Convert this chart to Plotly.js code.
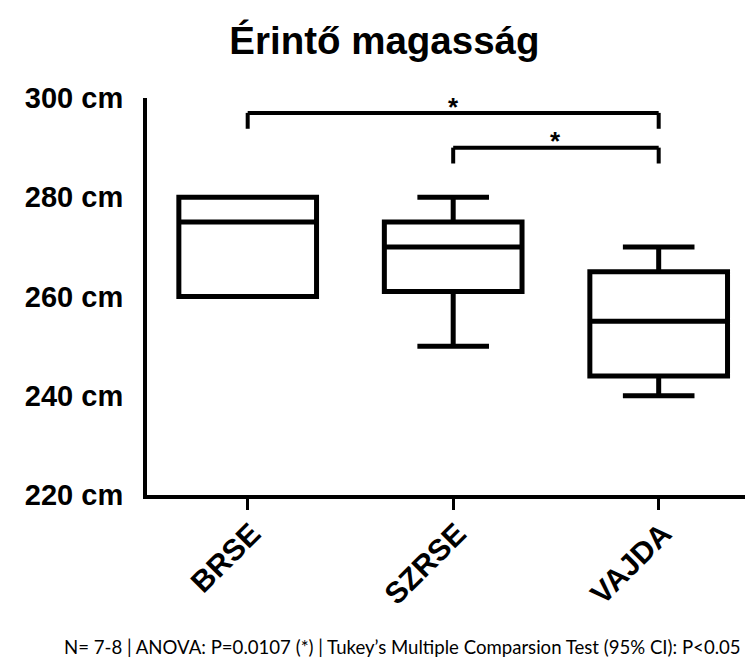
<!DOCTYPE html>
<html>
<head>
<meta charset="utf-8">
<script src="https://cdn.plot.ly/plotly-3.0.1.min.js"></script>
<style>html,body{margin:0;padding:0;background:#fff;}#chart{width:745px;height:661px;}</style>
</head>
<body>
<div id="chart"></div>
<script>
// ---- data ----
const categories = ['BRSE', 'SZRSE', 'VAJDA'];
const lowerWhisker = [260, 250, 240];
const q1Values = [260, 261, 244];
const medianValues = [275, 270, 255];
const q3Values = [280, 275, 265];
const upperWhisker = [280, 280, 270];
const yTickValues = [220, 240, 260, 280, 300];
const yTickLabels = ['220 cm', '240 cm', '260 cm', '280 cm', '300 cm'];
// significance brackets
const bracketFrom = ['BRSE', 'SZRSE'];
const bracketTo = ['VAJDA', 'VAJDA'];
const bracketLevel = [297, 290];
const bracketLegEnd = [293.8, 286.8];
const starLevel = [298.2, 291.3];
const starText = ['*', '*'];
const titleText = 'Érintő magasság';
const footnoteText = "N= 7-8 | ANOVA: P=0.0107 (*) | Tukey’s Multiple Comparsion Test (95% CI): P<0.05";

const FONT = 'Liberation Sans, Arial, sans-serif';

const trace = {
  type: 'box',
  x: categories,
  q1: q1Values,
  median: medianValues,
  q3: q3Values,
  lowerfence: lowerWhisker,
  upperfence: upperWhisker,
  width: 0.67,
  whiskerwidth: 0.52,
  fillcolor: 'rgba(255,255,255,0)',
  line: {color: '#000', width: 5},
  hoverinfo: 'skip',
  showlegend: false
};

const shapes = [];
const annotations = [];
for (let i = 0; i < bracketFrom.length; i++) {
  const a = categories.indexOf(bracketFrom[i]);
  const b = categories.indexOf(bracketTo[i]);
  const ln = {color: '#000', width: 4};
  shapes.push({type: 'line', xref: 'x', yref: 'y', x0: a, x1: b, y0: bracketLevel[i], y1: bracketLevel[i], line: ln});
  shapes.push({type: 'line', xref: 'x', yref: 'y', x0: a, x1: a, y0: bracketLevel[i], y1: bracketLegEnd[i], line: ln});
  shapes.push({type: 'line', xref: 'x', yref: 'y', x0: b, x1: b, y0: bracketLevel[i], y1: bracketLegEnd[i], line: ln});
  annotations.push({
    xref: 'x', yref: 'y', x: (a + b) / 2, y: starLevel[i],
    text: starText[i], showarrow: false, xanchor: 'center', yanchor: 'middle',
    font: {family: FONT, size: 26, color: '#000', weight: 'bold'}
  });
}
annotations.push({
  xref: 'paper', yref: 'paper', x: 0.428, y: -0.383,
  text: footnoteText, showarrow: false, xanchor: 'center', yanchor: 'middle',
  font: {family: 'Lato, sans-serif', size: 18.6, color: '#000'}
});

const layout = {
  width: 745, height: 661,
  margin: {l: 147, r: 0, t: 98, b: 166},
  paper_bgcolor: '#fff', plot_bgcolor: '#fff',
  title: {
    text: titleText, xref: 'container', yref: 'container',
    x: 0.516, y: 0.938, xanchor: 'center', yanchor: 'middle',
    font: {family: FONT, size: 38.5, color: '#000', weight: 'bold'}
  },
  xaxis: {
    type: 'category',
    range: [-0.49, 2.42],
    showline: true, linecolor: '#000', linewidth: 4,
    ticks: 'outside', ticklen: 11, tickwidth: 3, tickcolor: '#000',
    tickangle: -45, ticklabelshift: 4, ticklabelstandoff: -6,
    tickfont: {family: FONT, size: 30, color: '#000', weight: 'bold'},
    showgrid: false, zeroline: false, fixedrange: true
  },
  yaxis: {
    range: [220, 300],
    tickvals: yTickValues, ticktext: yTickLabels,
    showline: true, linecolor: '#000', linewidth: 4,
    ticks: '', ticklabelstandoff: 14,
    tickfont: {family: FONT, size: 29, color: '#000', weight: 'bold'},
    showgrid: false, zeroline: false, fixedrange: true
  },
  shapes: shapes,
  annotations: annotations
};

Plotly.newPlot('chart', [trace], layout, {displayModeBar: false, staticPlot: true});
</script>
</body>
</html>
